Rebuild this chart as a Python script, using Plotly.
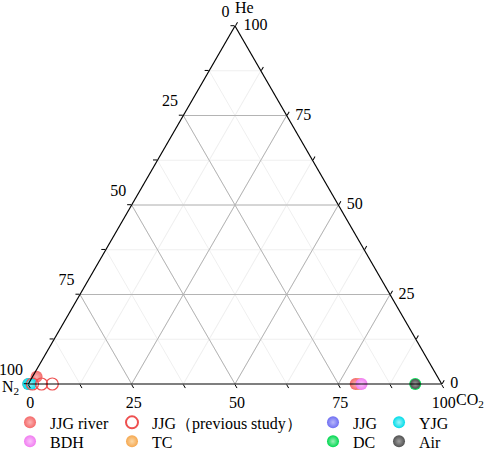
import plotly.graph_objects as go

# ---------------- data (He, N2, CO2 in %) ----------------
jjg_river_he = [0.0, 2.0, 0.0]
jjg_river_n2 = [100.0, 97.0, 20.8]
jjg_river_co2 = [0.0, 1.0, 79.2]

bdh_he = [0.0]
bdh_n2 = [19.4]
bdh_co2 = [80.6]

jjg_prev_he = [0.0, 0.0, 0.0]
jjg_prev_n2 = [99.0, 96.8, 94.2]
jjg_prev_co2 = [1.0, 3.2, 5.8]

tc_he = [0.0]
tc_n2 = [20.0]
tc_co2 = [80.0]

jjg_he = [0.0]
jjg_n2 = [99.5]
jjg_co2 = [0.5]

dc_he = [0.0]
dc_n2 = [6.4]
dc_co2 = [93.6]

yjg_he = [0.0, 0.0]
yjg_n2 = [100.0, 99.4]
yjg_co2 = [0.0, 0.6]

air_he = [0.0]
air_n2 = [6.4]
air_co2 = [93.6]

major_vals = [25, 50, 75]
tick_vals = [0, 12.5, 25, 37.5, 50, 62.5, 75, 87.5, 100]
n2_label_vals = [0, 25, 50, 75, 100]
he_label_vals = [0, 25, 50, 75, 100]

# ---------------- figure ----------------
FONT = "Liberation Serif"
fig = go.Figure()

# major grid lines (constant He, N2, CO2)
for v in major_vals:
    fig.add_trace(go.Scatterternary(a=[v, v], b=[100 - v, 0], c=[0, 100 - v], mode="lines",
                                    line=dict(color="#b4b4b4", width=1), showlegend=False, hoverinfo="skip"))
    fig.add_trace(go.Scatterternary(a=[100 - v, 0], b=[v, v], c=[0, 100 - v], mode="lines",
                                    line=dict(color="#b4b4b4", width=1), showlegend=False, hoverinfo="skip"))
    fig.add_trace(go.Scatterternary(a=[100 - v, 0], b=[0, 100 - v], c=[v, v], mode="lines",
                                    line=dict(color="#b4b4b4", width=1), showlegend=False, hoverinfo="skip"))

# N2 tick labels along the left edge
fig.add_trace(go.Scatterternary(
    a=[100 - v for v in n2_label_vals], b=n2_label_vals, c=[0] * len(n2_label_vals),
    mode="markers+text", text=[str(v) for v in n2_label_vals], textposition="top left",
    marker=dict(size=7, color="rgba(0,0,0,0)"),
    textfont=dict(family=FONT, size=16, color="black"),
    showlegend=False, hoverinfo="skip", cliponaxis=False))

# He tick labels along the right edge
fig.add_trace(go.Scatterternary(
    a=he_label_vals, b=[0] * len(he_label_vals), c=[100 - v for v in he_label_vals],
    mode="markers+text", text=[str(v) for v in he_label_vals], textposition="middle right",
    marker=dict(size=12, color="rgba(0,0,0,0)"),
    textfont=dict(family=FONT, size=16, color="black"),
    showlegend=False, hoverinfo="skip", cliponaxis=False))


def ball(name, he, n2, co2, color, light, legend, size=12):
    fig.add_trace(go.Scatterternary(
        a=he, b=n2, c=co2, mode="markers", name=name, legend=legend,
        marker=dict(size=size, color=color, line=dict(width=0),
                    gradient=dict(type="radial", color=light)),
        cliponaxis=False))


ball("TC", tc_he, tc_n2, tc_co2, "#f5a850", "#fcd9a8", "legend6")
ball("JJG river", jjg_river_he, jjg_river_n2, jjg_river_co2, "#f46a6a", "#fbb4b4", "legend")
ball("BDH", bdh_he, bdh_n2, bdh_co2, "#f07cf0", "#fbc4fb", "legend5")
ball("JJG", jjg_he, jjg_n2, jjg_co2, "#6f6ff2", "#b8b8fa", "legend3")
ball("YJG", yjg_he, yjg_n2, yjg_co2, "#00dce8", "#a0f4fa", "legend4")
ball("DC", dc_he, dc_n2, dc_co2, "#00d850", "#9cf0b8", "legend7")
ball("Air", air_he, air_n2, air_co2, "#505050", "#a0a0a0", "legend8", size=10)

fig.add_trace(go.Scatterternary(
    a=jjg_prev_he, b=jjg_prev_n2, c=jjg_prev_co2, mode="markers", name="JJG（previous study）",
    legend="legend2",
    marker=dict(size=12, color="#ee5050", symbol="circle-open", line=dict(width=1.2)),
    cliponaxis=False))


def axis(show_labels=True):
    return dict(
        title=dict(text=""),
        tickmode="array", tickvals=tick_vals,
        ticktext=[("" if (v % 25) else str(int(100 - v))) for v in tick_vals],
        showticklabels=show_labels,
        tickfont=dict(family=FONT, size=16, color="black"),
        ticks="outside", ticklen=4, tickcolor="black", tickwidth=1,
        linecolor="black", linewidth=1.2, showline=True,
        showgrid=True, gridcolor="#efefef", gridwidth=1,
        min=0)


fig.update_layout(
    width=484, height=450,
    paper_bgcolor="white", plot_bgcolor="white",
    font=dict(family=FONT, size=16, color="black"),
    margin=dict(l=28, r=42, t=26, b=66, autoexpand=False),
    ternary=dict(
        sum=100, bgcolor="white",
        domain=dict(x=[0, 1], y=[0, 1]),
        aaxis=axis(False), baxis=axis(), caxis=axis(False),
    ),
    annotations=[
        dict(text="He", xref="paper", yref="paper", x=0.495, y=1.022, xanchor="left", yanchor="bottom",
             showarrow=False, font=dict(family=FONT, size=16)),
        dict(text="N<sub>2</sub>", xref="paper", yref="paper", x=-0.017, y=-0.01, xanchor="right",
             yanchor="middle", showarrow=False, font=dict(family=FONT, size=16)),
        dict(text="CO<sub>2</sub>", xref="paper", yref="paper", x=1.03, y=-0.014, xanchor="left",
             yanchor="top", showarrow=False, font=dict(family=FONT, size=16)),
    ],
)

row_y = [0.099, 0.099 - 19 / 450]
col_x = [10 / 484, 112 / 484, 313 / 484, 379 / 484]
leg_common = dict(orientation="v", yanchor="top", yref="container", xref="container",
                  xanchor="left", bgcolor="rgba(0,0,0,0)", tracegroupgap=0,
                  font=dict(family=FONT, size=16, color="black"), itemsizing="constant")
legends = {}
for i, key in enumerate(["legend", "legend2", "legend3", "legend4",
                         "legend5", "legend6", "legend7", "legend8"]):
    legends[key] = dict(x=col_x[i % 4], y=row_y[i // 4], **leg_common)
fig.update_layout(**legends)

fig.write_html("out.html", post_script="document.body.style.margin='0px';",
               config={"displayModeBar": False})
